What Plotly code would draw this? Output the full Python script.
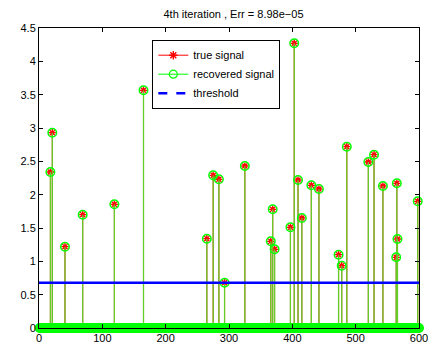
import numpy as np
import plotly.graph_objects as go

# Signal length and support of the sparse signal
n_samples = 600
spike_idx = [18, 21, 41, 69, 119, 165, 265, 275, 284, 293, 325, 366, 369, 372,
             397, 403, 409, 415, 430, 442, 473, 478, 486, 520, 529, 543, 564,
             565, 566, 598]
true_vals = [2.34, 2.93, 1.22, 1.70, 1.855, 3.565, 1.34, 2.29, 2.23, 0.68, 2.43,
             1.30, 1.78, 1.18, 1.51, 4.27, 2.22, 1.65, 2.14, 2.085, 1.10, 0.935,
             2.72, 2.49, 2.60, 2.13, 1.06, 2.17, 1.334, 1.90]
recovered_vals = list(true_vals)
threshold = 0.68
x_ticks = [0, 100, 200, 300, 400, 500, 600]
y_ticks = [0, 0.5, 1, 1.5, 2, 2.5, 3, 3.5, 4, 4.5]

# full recovered vector (zeros outside the support)
t = np.arange(1, n_samples + 1)
recovered = np.zeros(n_samples)
recovered[np.array(spike_idx) - 1] = recovered_vals


def stem_xy(xs, ys):
    sx, sy = [], []
    for xv, yv in zip(xs, ys):
        sx += [xv, xv, None]
        sy += [0, yv, None]
    return sx, sy


fig = go.Figure()

# true signal: red stems + asterisks
tx, ty = stem_xy(spike_idx, true_vals)
fig.add_trace(go.Scatter(x=tx, y=ty, mode="lines", line=dict(color="#ff0000", width=1),
                         showlegend=False, hoverinfo="skip", cliponaxis=False))
fig.add_trace(go.Scatter(x=spike_idx, y=true_vals, mode="markers",
                         marker=dict(symbol="asterisk-open", size=6, color="#ff0000",
                                     line=dict(width=1.4)),
                         showlegend=False, cliponaxis=False))

# recovered signal: green stems + open circles at every sample
nz = recovered != 0
rx, ry = stem_xy(t[nz].tolist(), recovered[nz].tolist())
fig.add_trace(go.Scatter(x=rx, y=ry, mode="lines", line=dict(color="rgb(100,205,40)", width=1.3),
                         showlegend=False, hoverinfo="skip", cliponaxis=False))
fig.add_trace(go.Scatter(x=t, y=recovered, mode="markers",
                         marker=dict(symbol="circle-open", size=8.5, color="#00ff00",
                                     line=dict(width=1.5)),
                         showlegend=False, cliponaxis=False))

# threshold line
fig.add_trace(go.Scatter(x=[0, n_samples], y=[threshold, threshold], mode="lines",
                         line=dict(color="#0000ff", width=2.5), showlegend=False))

# legend entries
fig.add_trace(go.Scatter(x=[None], y=[None], mode="lines+markers", name="true signal",
                         line=dict(color="#ff0000", width=1),
                         marker=dict(symbol="asterisk-open", size=7, color="#ff0000",
                                     line=dict(width=1.4))))
fig.add_trace(go.Scatter(x=[None], y=[None], mode="lines+markers", name="recovered signal",
                         line=dict(color="#00ff00", width=1),
                         marker=dict(symbol="circle-open", size=8, color="#00ff00",
                                     line=dict(width=1.2))))
fig.add_trace(go.Scatter(x=[None], y=[None], mode="lines", name="threshold",
                         line=dict(color="#0000ff", width=2.5, dash="dash")))

axis_common = dict(showline=True, linecolor="black", linewidth=1, mirror="ticks",
                   ticks="inside", ticklen=4, tickcolor="black", showgrid=False,
                   zeroline=False, tickfont=dict(family="Liberation Sans, Arial", size=11, color="black"))

fig.update_layout(
    width=440, height=356,
    margin=dict(l=39, r=12, t=28, b=20),
    paper_bgcolor="white", plot_bgcolor="white",
    title=dict(text="4th iteration , Err = 8.98e\u221205", x=(39 + 428) / 2 / 440, xanchor="center",
               y=1 - 14 / 356, yanchor="middle", yref="container",
               font=dict(family="Liberation Sans, Arial", size=11, color="black")),
    xaxis=dict(range=[0, 600], tickvals=x_ticks, **axis_common),
    yaxis=dict(range=[0, 4.5], tickvals=y_ticks, ticktext=[f"{v:g}" for v in y_ticks], **axis_common),
    legend=dict(x=(155 - 39) / 389, y=(336 - 40) / 308, xanchor="left", yanchor="top",
                bgcolor="white", bordercolor="black", borderwidth=1,
                font=dict(family="Liberation Sans, Arial", size=11, color="black"),
                tracegroupgap=0, itemwidth=30),
    showlegend=True,
)

fig.write_html("out.html")
